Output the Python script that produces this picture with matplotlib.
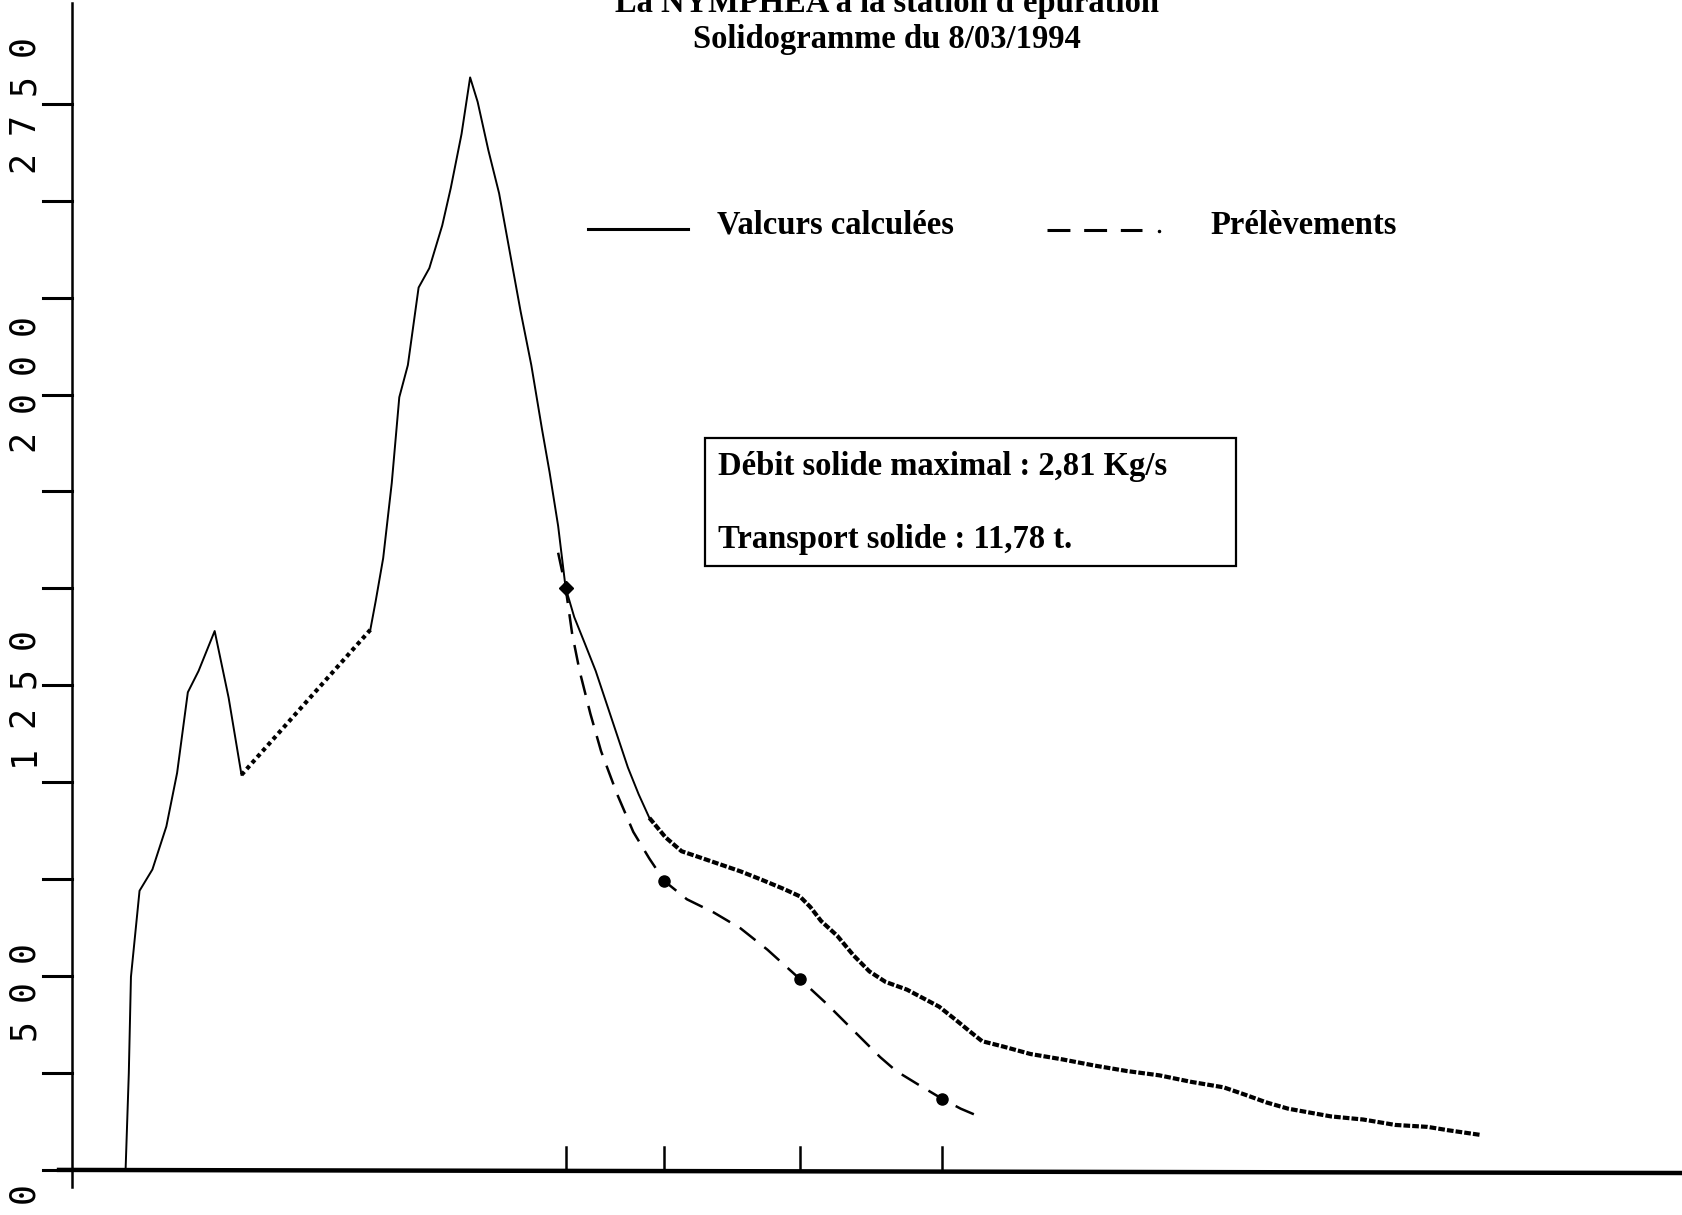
import matplotlib
matplotlib.use("Agg")
import matplotlib.pyplot as plt
from matplotlib.patches import Rectangle

# time (arbitrary units, no labels on the original axis) and solid discharge (g/s)
calc_t = [50, 53, 55, 59, 63, 75, 88, 98, 108, 118, 133, 146, 158]
calc_q = [0, 249, 498, 609, 720, 775, 886, 1024, 1232, 1287, 1390, 1218, 1019]

rise_t = [158, 278]
rise_q = [1019, 1393]

peak_t = [278, 283, 290, 298, 305, 313, 323, 333, 345, 353, 363, 371, 378, 388,
          398, 408, 418, 428, 438, 445, 453, 460, 468, 478, 488, 498, 508, 518,
          528, 538]
peak_q = [1393, 1467, 1578, 1772, 1993, 2076, 2276, 2326, 2436, 2533, 2672, 2818,
          2755, 2630, 2519, 2367, 2215, 2076, 1910, 1800, 1661, 1501, 1426, 1357,
          1287, 1204, 1121, 1038, 969, 908]

tail_t = [538, 553, 568, 583, 603, 623, 643, 663, 678, 688, 698, 713, 728, 743,
          758, 778, 793, 808, 823, 838, 848, 868, 893, 923, 953, 983, 1013, 1043,
          1073, 1093, 1113, 1133, 1173, 1203, 1233, 1263, 1283, 1313]
tail_q = [908, 858, 822, 808, 789, 770, 748, 725, 706, 678, 642, 604, 554, 512,
          485, 465, 443, 421, 388, 354, 332, 318, 299, 285, 269, 255, 244, 227,
          213, 194, 174, 158, 138, 130, 116, 111, 102, 90]

# measured samples (Prélèvements)
prel_t = [453, 460, 466, 473, 483, 493, 508, 523, 538, 552, 573, 598, 623, 648,
          678, 703, 728, 753, 768, 788, 811, 828, 845]
prel_q = [1592, 1501, 1384, 1287, 1177, 1080, 969, 872, 803, 745, 698, 664, 623,
          568, 493, 429, 360, 291, 255, 221, 183, 158, 138]
sample_t = [460, 552, 678, 811]
sample_q = [1501, 745, 493, 183]

ytick_vals = [0, 250, 500, 750, 1000, 1250, 1500, 1750, 2000, 2250, 2500, 2750]
ylabel_text = ["0", "500", "1250", "2000", "2750"]
ylabel_pos = [-58, 463, 1220, 2031, 2750]   # where each label is centred

SERIF = "Liberation Serif"
FS = 23.5
W, H = 1568.0, 1132.0  # reference layout grid


def fx(px):
    return px / W


def fy(py):
    return 1 - py / H


fig = plt.figure(figsize=(16.83, 12.15), dpi=100)
ax = fig.add_axes([0, 0, 1, 1])
ax.set_xlim(-67, 1501)
ax.set_ylim(-116.3, 3017.7)
ax.axis("off")

# axes drawn by hand, like the old plotter output
ax.plot([0, 0], [-45, 3010], color="black", lw=1.8)
ax.plot([-12, 1501], [0, -8], color="black", lw=3.2)
for v in ytick_vals:
    ax.plot([-27, 0], [v, v], color="black", lw=2.2)
for t in sample_t:
    ax.plot([t, t], [0, 60], color="black", lw=1.8)

# widely spaced plotter digits, reading bottom to top
pitch = 100
for lab, c in zip(ylabel_text, ylabel_pos):
    start = c - (len(lab) - 1) / 2 * pitch
    for i, ch in enumerate(lab):
        ax.text(-45, start + i * pitch, ch, rotation=90, ha="center", va="center",
                family="DejaVu Sans Mono", fontsize=25, color="black")

# calculated curve
ax.plot(calc_t, calc_q, color="black", lw=1.4)
ax.plot(rise_t, rise_q, color="black", lw=3.0, linestyle=(0, (1.0, 0.9)))
ax.plot(peak_t, peak_q, color="black", lw=1.4)
ax.plot(tail_t, tail_q, color="black", lw=3.0, linestyle=(0, (1.6, 0.5)))

# measured curve
ax.plot(prel_t, prel_q, color="black", lw=1.8, linestyle=(0, (8, 4.5)))
ax.plot(sample_t[1:], sample_q[1:], "o", color="black", ms=8)
ax.plot(sample_t[:1], sample_q[:1], "D", color="black", ms=7)

# title
ax.text(fx(826), fy(3), "La NYMPHEA à la station d'épuration", transform=ax.transAxes,
        ha="center", va="center", family=SERIF, fontweight="bold", fontsize=FS)
ax.text(fx(826), fy(37), "Solidogramme du 8/03/1994", transform=ax.transAxes,
        ha="center", va="center", family=SERIF, fontweight="bold", fontsize=FS)

# legend
ax.plot([fx(548), fx(641)], [fy(213), fy(213)], transform=ax.transAxes,
        color="black", lw=2.2)
ax.text(fx(668), fy(210), "Valcurs calculées", transform=ax.transAxes,
        ha="left", va="center", family=SERIF, fontweight="bold", fontsize=FS)
ax.plot([fx(975), fx(1064)], [fy(214), fy(214)], transform=ax.transAxes,
        color="black", lw=2.2, linestyle=(0, (7.5, 4.5)))
ax.plot([fx(1080)], [fy(215)], ".", transform=ax.transAxes, color="black", ms=3)
ax.text(fx(1128), fy(210), "Prélèvements", transform=ax.transAxes,
        ha="left", va="center", family=SERIF, fontweight="bold", fontsize=FS)

# summary box
ax.add_patch(Rectangle((fx(657), fy(527)), fx(1152) - fx(657), fy(408) - fy(527),
                       transform=ax.transAxes, fill=False, edgecolor="black", lw=1.6))
ax.text(fx(669), fy(435), "Débit solide maximal : 2,81 Kg/s", transform=ax.transAxes,
        ha="left", va="center", family=SERIF, fontweight="bold", fontsize=FS)
ax.text(fx(669), fy(503), "Transport solide : 11,78 t.", transform=ax.transAxes,
        ha="left", va="center", family=SERIF, fontweight="bold", fontsize=FS)

fig.savefig("out.png", dpi=100)
